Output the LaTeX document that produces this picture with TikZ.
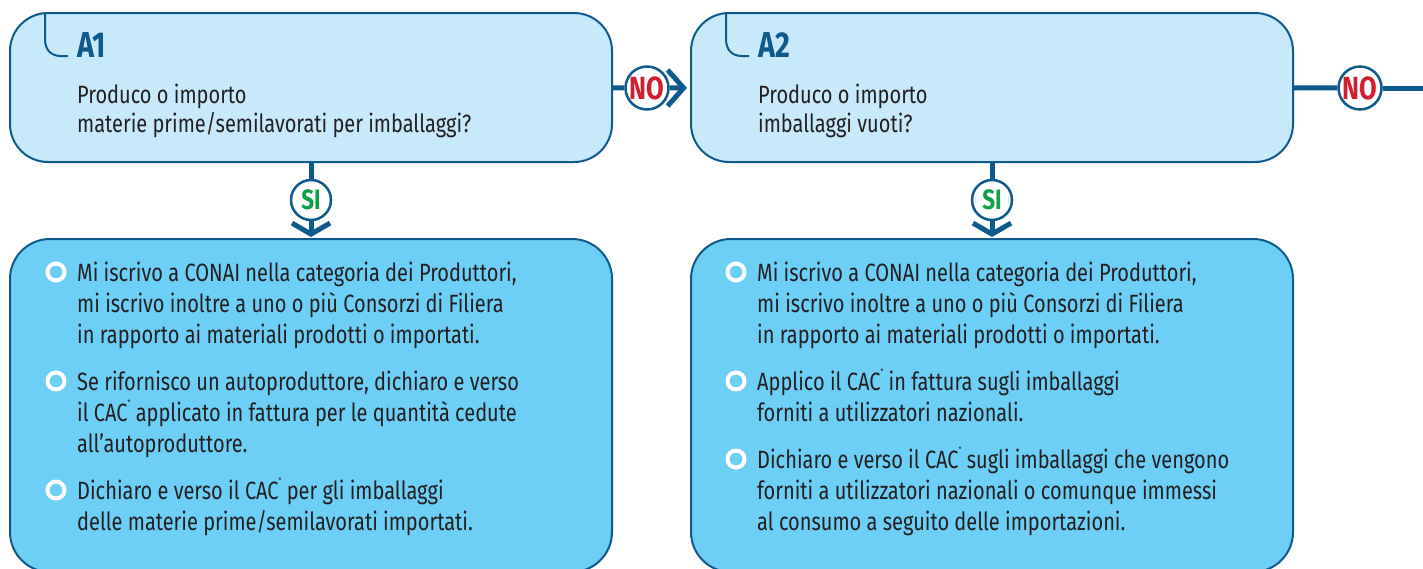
\documentclass[tikz,border=0pt]{standalone}
\usepackage{fontspec}
\setmainfont{Fira Sans}[FakeStretch=0.80]
\usetikzlibrary{arrows.meta}
\definecolor{qfill}{HTML}{C7E9F9}
\definecolor{afill}{HTML}{6DCFF6}
\definecolor{dblue}{HTML}{0F5A8C}
\definecolor{txt}{HTML}{231F20}
\definecolor{nored}{HTML}{D01F2E}
\definecolor{sigreen}{HTML}{0FA04A}
\newcommand{\cacstar}{\raisebox{1.15ex}{\fontsize{8}{8}\selectfont *}}
\begin{document}
\begin{tikzpicture}[x=1pt,y=-1pt,
  qbox/.style={draw=dblue, line width=2pt, fill=qfill, rounded corners=38pt,
    minimum width=602pt, minimum height=149pt, inner sep=0pt},
  abox/.style={draw=dblue, line width=2pt, fill=afill, rounded corners=40pt,
    minimum width=602pt, minimum height=333pt, inner sep=0pt},
  heading/.style={anchor=base west, inner sep=0pt, text=dblue,
    font=\bfseries\fontsize{36}{36}\selectfont},
  qtext/.style={anchor=base west, inner sep=0pt, text=txt,
    font=\fontsize{25}{29.5}\selectfont},
  btext/.style={anchor=base west, inner sep=0pt, text=txt,
    font=\fontsize{25}{31}\selectfont},
  bul/.style={circle, draw=white, line width=4pt, minimum size=17pt, inner sep=0pt},
  corner/.style={draw=dblue, line width=2pt},
  conn/.style={draw=dblue, line width=5pt},
  nocirc/.style={circle, draw=dblue, line width=2.5pt, fill=white, minimum size=43pt,
    inner sep=0pt, text=nored, font=\bfseries\fontsize{32}{32}\selectfont},
  sicirc/.style={circle, draw=dblue, line width=2.5pt, fill=white, minimum size=40pt,
    inner sep=0pt, text=sigreen, font=\bfseries\fontsize{28}{28}\selectfont},
  noarrow/.style={-{Straight Barb[length=16pt, width=36pt]}},
  siarrow/.style={-{Straight Barb[length=11pt, width=38pt]}}
]
\useasboundingbox (0,0) rectangle (1423,568);

% boxes
\node[qbox] (q1) at (311,87.5) {};
\node[qbox] (q2) at (992,87.5) {};
\node[abox] (a1) at (311,405.5) {};
\node[abox] (a2) at (992,405.5) {};

% corner marks
\draw[corner] ([xshift=36pt]q1.north west) -- ([xshift=36pt,yshift=-27pt]q1.north west)
  .. controls ([xshift=36pt,yshift=-38pt]q1.north west) and ([xshift=42pt,yshift=-44pt]q1.north west)
  .. ([xshift=52pt,yshift=-44pt]q1.north west) -- ([xshift=59pt,yshift=-44pt]q1.north west);
\draw[corner] ([xshift=36pt]q2.north west) -- ([xshift=36pt,yshift=-27pt]q2.north west)
  .. controls ([xshift=36pt,yshift=-38pt]q2.north west) and ([xshift=42pt,yshift=-44pt]q2.north west)
  .. ([xshift=52pt,yshift=-44pt]q2.north west) -- ([xshift=59pt,yshift=-44pt]q2.north west);

% headings and questions
\node[heading] (h1) at (77,57) {A1};
\node[heading] (h2) at (758,57) {A2};
\node[qtext] (t1) at (77,103) {\vtop{\hbox{Produco o importo}\hbox{materie prime/semilavorati per imballaggi?}}};
\node[qtext] (t2) at (758,103) {\vtop{\hbox{Produco o importo}\hbox{imballaggi vuoti?}}};

% connectors
\node[nocirc] (n1) at (647,88) {NO};
\node[nocirc] (n2) at (1360,88) {NO};
\node[sicirc] (s1) at (311,200) {SI};
\node[sicirc] (s2) at (992,200) {SI};
\coordinate (e2) at (1430,88);
\draw[conn] (q1) -- (n1);
\draw[conn, noarrow, shorten >=3pt] (n1) -- (q2);
\draw[conn] (q2) -- (n2);
\draw[conn] (n2) -- (e2);
\draw[conn] (q1) -- (s1);
\draw[conn, siarrow, shorten >=1pt] (s1) -- (a1);
\draw[conn] (q2) -- (s2);
\draw[conn, siarrow, shorten >=1pt] (s2) -- (a2);

% A1 answers
\node[bul] (b11) at (56,272) {};
\node[btext] (p11) at (77,281) {\vtop{\hbox{Mi iscrivo a CONAI nella categoria dei Produttori,}\hbox{mi iscrivo inoltre a uno o più Consorzi di Filiera}\hbox{in rapporto ai materiali prodotti o importati.}}};
\node[bul] (b12) at (56,381) {};
\node[btext] (p12) at (77,390) {\vtop{\hbox{Se rifornisco un autoproduttore, dichiaro e verso}\hbox{il CAC\cacstar{} applicato in fattura per le quantità cedute}\hbox{all’autoproduttore.}}};
\node[bul] (b13) at (56,490) {};
\node[btext] (p13) at (77,499) {\vtop{\hbox{Dichiaro e verso il CAC\cacstar{} per gli imballaggi}\hbox{delle materie prime/semilavorati importati.}}};

% A2 answers
\node[bul] (b21) at (736,272) {};
\node[btext] (p21) at (757,281) {\vtop{\hbox{Mi iscrivo a CONAI nella categoria dei Produttori,}\hbox{mi iscrivo inoltre a uno o più Consorzi di Filiera}\hbox{in rapporto ai materiali prodotti o importati.}}};
\node[bul] (b22) at (736,381) {};
\node[btext] (p22) at (757,390) {\vtop{\hbox{Applico il CAC\cacstar{} in fattura sugli imballaggi}\hbox{forniti a utilizzatori nazionali.}}};
\node[bul] (b23) at (736,459) {};
\node[btext] (p23) at (757,468) {\vtop{\hbox{Dichiaro e verso il CAC\cacstar{} sugli imballaggi che vengono}\hbox{forniti a utilizzatori nazionali o comunque immessi}\hbox{al consumo a seguito delle importazioni.}}};
\end{tikzpicture}
\end{document}
